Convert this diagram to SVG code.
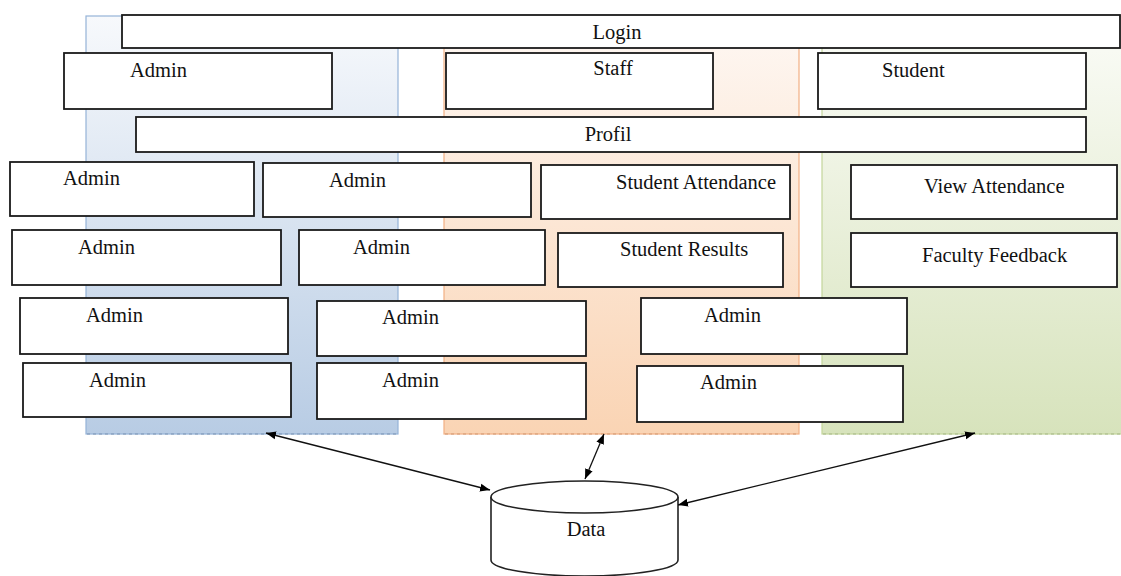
<svg xmlns="http://www.w3.org/2000/svg" width="1121" height="576" viewBox="0 0 1121 576">
<defs>
<linearGradient id="gBlue" x1="0" y1="0" x2="0" y2="1">
<stop offset="0" stop-color="#f7f9fc"/><stop offset="1" stop-color="#b8cce4"/>
</linearGradient>
<linearGradient id="gOrange" x1="0" y1="0" x2="0" y2="1">
<stop offset="0" stop-color="#fef8f4"/><stop offset="1" stop-color="#fad4b4"/>
</linearGradient>
<linearGradient id="gGreen" x1="0" y1="0" x2="0" y2="1">
<stop offset="0" stop-color="#fbfcf8"/><stop offset="1" stop-color="#d7e3bc"/>
</linearGradient>
<marker id="arr" viewBox="0 0 10 10" refX="10" refY="5" markerWidth="10" markerHeight="10" markerUnits="userSpaceOnUse" orient="auto-start-reverse">
<path d="M0,1 L10,5 L0,9 z" fill="#000"/>
</marker>
</defs>
<style>
.box{fill:#fff;stroke:#1a1a1a;stroke-width:1.8}
text{font-family:'Liberation Serif','Times New Roman',Times,'DejaVu Serif',serif;font-size:20.5px;fill:#111}
.c{text-anchor:middle}
.con{stroke:#111;stroke-width:1.3;fill:none}
</style>
<rect width="1121" height="576" fill="#fff"/>
<g id="lanes">
<rect x="86" y="16" width="312" height="418" fill="url(#gBlue)" stroke="#95b3d7" stroke-width="1.2"/>
<line x1="87" y1="434" x2="397" y2="434" stroke="#7f96b3" stroke-width="1.2" stroke-dasharray="3,3"/>
<rect x="444" y="16" width="355" height="418" fill="url(#gOrange)" stroke="#f2b084" stroke-width="1.2"/>
<line x1="445" y1="434" x2="798" y2="434" stroke="#d29a74" stroke-width="1.2" stroke-dasharray="3,3"/>
<rect x="822" y="16" width="310" height="418" fill="url(#gGreen)" stroke="#c3d69b" stroke-width="1.2"/>
<line x1="823" y1="434" x2="1121" y2="434" stroke="#a8b88a" stroke-width="1.2" stroke-dasharray="3,3"/>
</g>
<g id="login"><rect class="box" x="122" y="15" width="998" height="33"/><text class="c" x="617" y="39">Login</text></g>
<g id="admin0"><rect class="box" x="64" y="53" width="268" height="56"/><text x="130" y="77">Admin</text></g>
<g id="staff"><rect class="box" x="446" y="53" width="267" height="56"/><text class="c" x="613" y="75">Staff</text></g>
<g id="student"><rect class="box" x="818" y="53" width="268" height="56"/><text x="882" y="77">Student</text></g>
<g id="profil"><rect class="box" x="136" y="117" width="950" height="35"/><text class="c" x="608" y="141">Profil</text></g>
<g id="admin1"><rect class="box" x="10" y="162" width="244" height="54"/><text x="63" y="185">Admin</text></g>
<g id="admin2"><rect class="box" x="263" y="163" width="268" height="54"/><text x="329" y="187">Admin</text></g>
<g id="studentAttendance"><rect class="box" x="541" y="165" width="249" height="54"/><text x="616" y="189">Student Attendance</text></g>
<g id="viewAttendance"><rect class="box" x="851" y="165" width="266" height="54"/><text x="924" y="193">View Attendance</text></g>
<g id="admin3"><rect class="box" x="12" y="230" width="269" height="55"/><text x="78" y="254">Admin</text></g>
<g id="admin4"><rect class="box" x="299" y="230" width="246" height="55"/><text x="353" y="254">Admin</text></g>
<g id="studentResults"><rect class="box" x="558" y="233" width="225" height="54"/><text x="620" y="256">Student Results</text></g>
<g id="facultyFeedback"><rect class="box" x="851" y="233" width="266" height="54"/><text x="922" y="262">Faculty Feedback</text></g>
<g id="admin5"><rect class="box" x="20" y="298" width="268" height="56"/><text x="86" y="322">Admin</text></g>
<g id="admin6"><rect class="box" x="317" y="301" width="269" height="55"/><text x="382" y="324">Admin</text></g>
<g id="admin7"><rect class="box" x="641" y="298" width="266" height="56"/><text x="704" y="322">Admin</text></g>
<g id="admin8"><rect class="box" x="23" y="363" width="268" height="54"/><text x="89" y="387">Admin</text></g>
<g id="admin9"><rect class="box" x="317" y="363" width="269" height="56"/><text x="382" y="387">Admin</text></g>
<g id="admin10"><rect class="box" x="637" y="366" width="266" height="56"/><text x="700" y="389">Admin</text></g>
<g id="data">
<path d="M491,497 L491,560 A93.5,16 0 0 0 678,560 L678,497" fill="#fff" stroke="#222" stroke-width="1.6"/>
<ellipse cx="584.5" cy="497" rx="93.5" ry="16" fill="#fff" stroke="#222" stroke-width="1.6"/>
<text class="c" x="586" y="536">Data</text>
</g>
<g id="connectors">
<line class="con" x1="266" y1="433" x2="490" y2="490" marker-start="url(#arr)" marker-end="url(#arr)"/>
<line class="con" x1="604" y1="434" x2="585" y2="479" marker-start="url(#arr)" marker-end="url(#arr)"/>
<line class="con" x1="975" y1="433" x2="678" y2="505" marker-start="url(#arr)" marker-end="url(#arr)"/>
</g>
</svg>
